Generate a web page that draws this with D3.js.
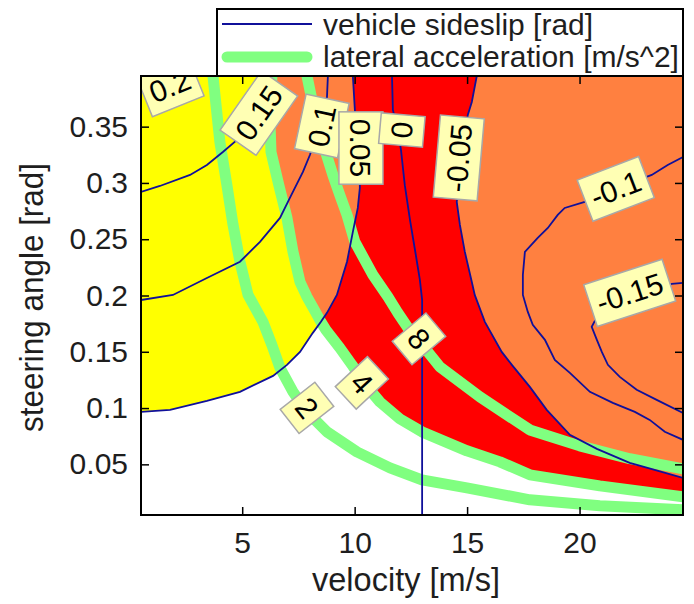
<!DOCTYPE html>
<html>
<head>
<meta charset="utf-8">
<script src="https://cdn.jsdelivr.net/npm/d3@7"></script>
<style>
  body { margin: 0; background: #fff; }
  svg text { font-family: "Liberation Sans", Arial, sans-serif; fill: #1e1e1e; }
</style>
</head>
<body>
<svg id="chart" width="694" height="604"></svg>
<script>
// contour lines, points are [velocity m/s, steering angle rad]
const accel2 = [[3.70,0.395],[4.01,0.336],[4.32,0.298],[4.59,0.263],[4.90,0.230],[5.26,0.2005],
  [5.92,0.1766],[6.32,0.156],[6.68,0.1357],[7.26,0.1144],[7.88,0.0966],[8.77,0.0789],[10.1,0.0611],
  [11.57,0.0469],[12.99,0.0362],[14.99,0.0291],[17.79,0.0185],[20.9,0.0132],[24.6,0.0096]];
const accel4 = [[6.32,0.395],[6.23,0.356],[6.28,0.3275],[6.63,0.298],[6.99,0.2689],[7.26,0.2387],
  [7.57,0.212],[7.88,0.1988],[8.23,0.1863],[8.5,0.1766],[8.72,0.1694],[9.34,0.1535],[9.88,0.1384],
  [10.41,0.1224],[11.12,0.1055],[12.01,0.0904],[12.99,0.0789],[14.99,0.062],[16.46,0.0522],
  [17.79,0.0407],[20.9,0.0309],[24.6,0.0212]];
const accel8 = [[7.88,0.395],[8.1,0.3737],[8.54,0.3382],[9.03,0.3071],[9.34,0.2893],[9.66,0.2716],
  [10.01,0.2476],[10.81,0.2183],[11.48,0.1988],[11.92,0.1846],[12.37,0.1712],[12.86,0.1597],
  [13.79,0.1366],[15.57,0.1099],[17.79,0.0806],[20.01,0.0664],[22.23,0.055],[24.6,0.046]];

const slip02 = [[0.5,0.389],[0.9,0.3928],[1.26,0.395]];
const slip015 = [[0.5,0.292],[1.34,0.2973],[2.68,0.3071],[3.43,0.316],[4.14,0.3275],[4.77,0.3382],
  [5.43,0.3541],[6.01,0.3737]];
const slip01 = [[0.5,0.196],[1.92,0.2005],[3.43,0.2156],[4.9,0.230],[5.79,0.2476],[6.68,0.2689],
  [7.12,0.2867],[7.7,0.3098],[8.01,0.3248],[8.46,0.3515],[8.77,0.3764],[8.81,0.395]];
const slip005 = [[0.5,0.0966],[1.79,0.0984],[3.43,0.1064],[4.9,0.1144],[6.37,0.1286],[6.99,0.1384],
  [7.57,0.1499],[8.14,0.1668],[8.5,0.1766],[8.77,0.1846],[9.21,0.2005],[9.66,0.230],[9.92,0.2565],
  [10.14,0.2778],[10.23,0.2955],[10.23,0.3293],[10.01,0.3648],[9.92,0.395]];
const slip0 = [[11.66,0.395],[11.7,0.3648],[11.92,0.347],[12.06,0.3293],[12.23,0.298],[12.46,0.2671],
  [12.72,0.236],[12.9,0.2139],[13.0,0.1961],[13.0,0.005]];
const slipM005 = [[15.43,0.395],[15.21,0.3719],[15.03,0.3604],[14.77,0.3222],[14.54,0.2831],
  [14.68,0.2627],[14.9,0.2387],[15.21,0.212],[15.34,0.2005],[15.79,0.1766],[16.54,0.1499],
  [16.99,0.1384],[17.79,0.1188],[18.54,0.0984],[19.57,0.0762],[20.77,0.0638],[22.23,0.0513],
  [23.34,0.0451],[24.6,0.038]];
const slipM01 = [[24.6,0.3231],[23.92,0.316],[23.21,0.3071],[21.61,0.2947],[20.23,0.2831],
  [19.34,0.2778],[19.03,0.2716],[18.59,0.26],[18.14,0.2511],[17.57,0.2387],[17.48,0.2183],
  [17.48,0.2005],[17.7,0.1854],[17.92,0.1739],[18.46,0.1606],[18.9,0.1428],[19.57,0.1313],
  [20.46,0.1144],[21.48,0.1046],[22.46,0.0966],[23.12,0.0895],[23.79,0.0789],[24.6,0.0718]];
const slipM015 = [[24.6,0.2112],[24.1,0.2103],[22.23,0.196],[20.68,0.1774],[20.54,0.1721],
  [20.77,0.1606],[20.99,0.1499],[21.26,0.1384],[21.79,0.1277],[22.54,0.1162],[23.43,0.1073],
  [24.6,0.0957]];

// contour labels
const labelText  = ["0.2", "0.15", "0.1", "0.05", "0", "-0.05", "-0.1", "-0.15", "2", "4", "8"];
const labelAt    = [[1.79,0.3862],[5.74,0.3621],[8.54,0.3506],[10.28,0.331],[12.1,0.347],
  [14.63,0.3222],[21.61,0.2947],[22.23,0.2023],[7.88,0.1002],[10.32,0.1224],[12.86,0.1615]];
const labelAngle = [-22, -55, -78, 90, -85, -85, -21, -18, 52, 47, 50];

const xTicks = [5, 10, 15, 20];
const yTicks = [0.05, 0.1, 0.15, 0.2, 0.25, 0.3, 0.35];
const legendNames = ["vehicle sideslip [rad]", "lateral acceleration [m/s^2]"];

// where accel4 crosses slip005 (same point in both lists)
const cut4 = 9, cut005 = 8;

const svg = d3.select("#chart"),
      margin = {top: 76, right: 11, bottom: 89, left: 141},
      width = 694 - margin.left - margin.right,
      height = 604 - margin.top - margin.bottom;

const x = d3.scaleLinear().domain([0.5, 24.6]).range([0, width]);
const y = d3.scaleLinear().domain([0.005, 0.395]).range([height, 0]);
const line = d3.line().x(d => x(d[0])).y(d => y(d[1]));

const g = svg.append("g").attr("transform", "translate(" + margin.left + "," + margin.top + ")");

svg.append("defs").append("clipPath").attr("id", "plotclip")
   .append("rect").attr("width", width).attr("height", height);

const plot = g.append("g").attr("clip-path", "url(#plotclip)");
plot.append("rect").attr("width", width).attr("height", height).attr("fill", "#fff");

// filled regions, built from the contour lists
const x0 = x.domain()[0], yTop = y.domain()[1], xEnd = x.domain()[1];
const regions = [
  {color: "#ffff00", pts: [[x0, yTop], ...accel4.slice(0, cut4 + 1), ...slip005.slice(0, cut005).reverse()]},
  {color: "#ff8040", pts: [...accel4.slice(0, cut4 + 1), ...slip005.slice(cut005 + 1)]},
  {color: "#ff0000", pts: [...slip005.slice(cut005), ...slipM005, ...accel4.slice(cut4 + 1).reverse()]},
  {color: "#ff8040", pts: [...slipM005, [xEnd, yTop]]}
];
plot.selectAll("path.region").data(regions).join("path")
    .attr("class", "region")
    .attr("d", d => line(d.pts) + "Z")
    .attr("fill", d => d.color);

// lateral acceleration contours
plot.selectAll("path.accel").data([accel2, accel4, accel8]).join("path")
    .attr("class", "accel")
    .attr("d", line)
    .attr("fill", "none")
    .attr("stroke", "#80ff80")
    .attr("stroke-width", 11)
    .attr("stroke-linejoin", "round");

// sideslip contours
plot.selectAll("path.slip").data([slip02, slip015, slip01, slip005, slip0, slipM005, slipM01, slipM015]).join("path")
    .attr("class", "slip")
    .attr("d", line)
    .attr("fill", "none")
    .attr("stroke", "#10109a")
    .attr("stroke-width", 1.8);

// labels
const labels = labelText.map((t, i) => ({text: t, at: labelAt[i], angle: labelAngle[i]}));
const lab = plot.selectAll("g.clabel").data(labels).join("g")
    .attr("class", "clabel")
    .attr("transform", d => "translate(" + x(d.at[0]) + "," + y(d.at[1]) + ") rotate(" + d.angle + ")");
lab.append("rect")
    .attr("fill", "#ffffb4")
    .attr("stroke", "#a8a8a8")
    .attr("stroke-width", 1.5);
const labText = lab.append("text")
    .attr("text-anchor", "middle")
    .attr("dy", "0.35em")
    .style("font-size", "30px")
    .style("fill", "#000")
    .text(d => d.text);
labText.each(function () {
  const w = this.getComputedTextLength();
  d3.select(this.parentNode).select("rect")
    .attr("x", -w / 2 - 7).attr("width", w + 14)
    .attr("y", -22).attr("height", 44);
});

// axes, ticks pointing inward on all four sides
function styleAxis(sel) {
  sel.select(".domain").remove();
  sel.attr("font-size", 30).attr("font-family", null);
  sel.selectAll(".tick line").attr("stroke", "#000").attr("stroke-width", 1.5);
  sel.selectAll(".tick text").style("fill", "#1e1e1e");
}
g.append("g").attr("transform", "translate(0," + height + ")")
 .call(d3.axisBottom(x).tickValues(xTicks).tickSizeInner(-8).tickSizeOuter(0).tickPadding(17))
 .call(styleAxis);
g.append("g")
 .call(d3.axisTop(x).tickValues(xTicks).tickSizeInner(-8).tickSizeOuter(0).tickFormat(""))
 .call(styleAxis);
g.append("g")
 .call(d3.axisLeft(y).tickValues(yTicks).tickSizeInner(-8).tickSizeOuter(0).tickPadding(13).tickFormat(d => String(d)))
 .call(styleAxis);
g.append("g").attr("transform", "translate(" + width + ",0)")
 .call(d3.axisRight(y).tickValues(yTicks).tickSizeInner(-8).tickSizeOuter(0).tickFormat(""))
 .call(styleAxis);

g.append("rect")
 .attr("width", width).attr("height", height)
 .attr("fill", "none").attr("stroke", "#000").attr("stroke-width", 2);

// axis titles
g.append("text")
 .attr("x", 265).attr("y", height + 76)
 .attr("text-anchor", "middle")
 .attr("textLength", 188).attr("lengthAdjust", "spacingAndGlyphs")
 .style("font-size", "33px")
 .text("velocity [m/s]");
g.append("text")
 .attr("transform", "rotate(-90)")
 .attr("x", -221.5).attr("y", -98)
 .attr("text-anchor", "middle")
 .attr("textLength", 269).attr("lengthAdjust", "spacingAndGlyphs")
 .style("font-size", "33px")
 .text("steering angle [rad]");

// legend
const leg = svg.append("g").attr("transform", "translate(217,9)");
leg.append("rect").attr("width", 466).attr("height", 67)
   .attr("fill", "#fff").attr("stroke", "#000").attr("stroke-width", 2);
leg.append("line").attr("x1", 5).attr("x2", 95).attr("y1", 15).attr("y2", 15)
   .attr("stroke", "#10109a").attr("stroke-width", 1.8);
leg.append("line").attr("x1", 10).attr("x2", 90).attr("y1", 48).attr("y2", 48)
   .attr("stroke", "#80ff80").attr("stroke-width", 11).attr("stroke-linecap", "round");
leg.selectAll("text").data(legendNames).join("text")
   .attr("x", 106).attr("y", (d, i) => 26 + i * 32)
   .style("font-size", "30px")
   .text(d => d);
</script>
</body>
</html>
